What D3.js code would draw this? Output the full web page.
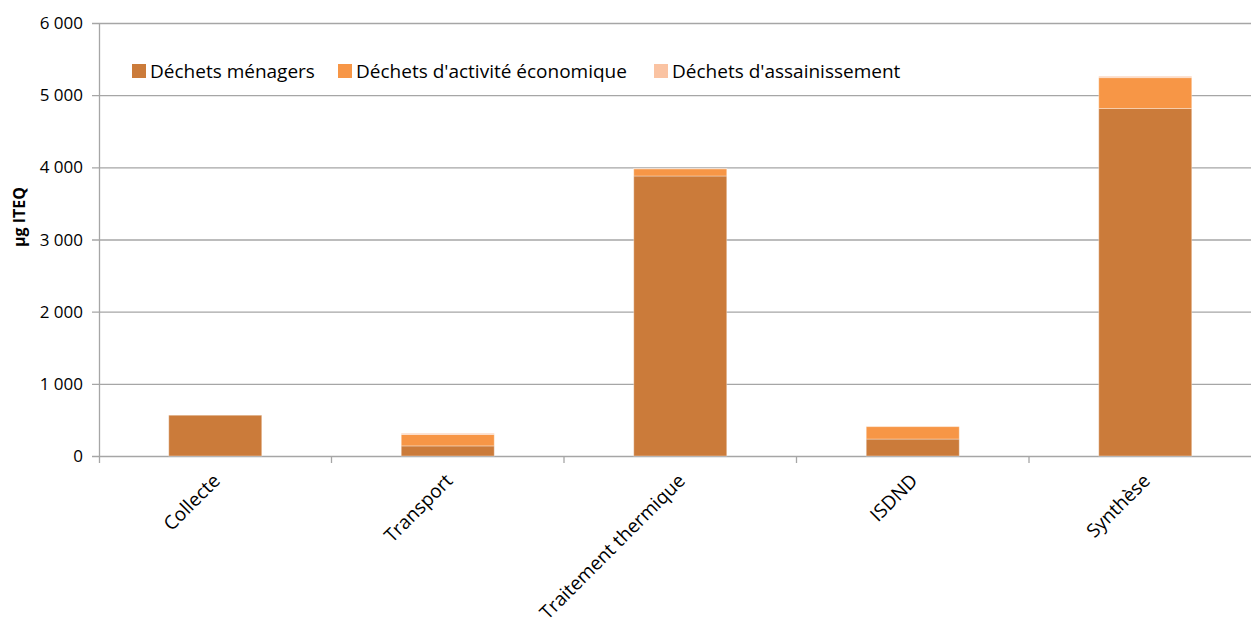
<!DOCTYPE html>
<html>
<head>
<meta charset="utf-8">
<script src="https://cdn.jsdelivr.net/npm/d3@7"></script>
<style>
  html, body { margin: 0; padding: 0; background: #fff; }
  svg { display: block; font-family: "Open Sans", Lato, sans-serif; }
</style>
</head>
<body>
<svg id="chart" width="1251" height="619"></svg>
<script>
// Emissions par étape de gestion des déchets (µg ITEQ)
const categories = ["Collecte", "Transport", "Traitement thermique", "ISDND", "Synthèse"];
const seriesNames = ["Déchets ménagers", "Déchets d'activité économique", "Déchets d'assainissement"];
const menagers = [565, 140, 3880, 235, 4815];
const activiteEco = [0, 158, 100, 172, 428];
const assainissement = [0, 16, 4, 0, 18];
const yTicks = [0, 1000, 2000, 3000, 4000, 5000, 6000];
const colors = ["#CB7B3A", "#F79646", "#FAC3A2"];

const svg = d3.select("#chart");
const margin = { left: 99, top: 23, bottom: 456 };
const bandWidth = 232.5;

const x = d3.scaleBand()
  .domain(categories)
  .range([margin.left, margin.left + bandWidth * categories.length])
  .paddingInner(0.6)
  .paddingOuter(0.3);

const y = d3.scaleLinear().domain([0, 6000]).range([margin.bottom, margin.top]);

const fmt = v => d3.format(",")(v).replace(/,/g, " ");

// Horizontal grid lines
svg.append("g")
  .selectAll("line")
  .data(yTicks)
  .join("line")
  .attr("x1", margin.left - 7)
  .attr("x2", 1251)
  .attr("y1", d => y(d) + 0.5)
  .attr("y2", d => y(d) + 0.5)
  .attr("stroke", "#a6a6a6")
  .attr("stroke-width", 1.3);

// Y axis labels
svg.append("g")
  .selectAll("text")
  .data(yTicks)
  .join("text")
  .attr("x", 83)
  .attr("y", d => y(d) + 6)
  .attr("text-anchor", "end")
  .attr("font-size", 17)
  .attr("fill", "#000")
  .text(d => fmt(d));

// Vertical axis line
svg.append("line")
  .attr("x1", margin.left + 0.5).attr("x2", margin.left + 0.5)
  .attr("y1", y(6000)).attr("y2", margin.bottom + 7)
  .attr("stroke", "#a6a6a6").attr("stroke-width", 1.3);

// Category separator ticks
const sepTicks = d3.range(1, categories.length).map(i => margin.left + i * bandWidth);
svg.append("g")
  .selectAll("line")
  .data(sepTicks)
  .join("line")
  .attr("x1", d => d).attr("x2", d => d)
  .attr("y1", margin.bottom).attr("y2", margin.bottom + 7)
  .attr("stroke", "#a6a6a6").attr("stroke-width", 1.3);

// Stacked bars
const rows = categories.map((c, i) => ({
  cat: c,
  [seriesNames[0]]: menagers[i],
  [seriesNames[1]]: activiteEco[i],
  [seriesNames[2]]: assainissement[i]
}));
const stacked = d3.stack().keys(seriesNames)(rows);

svg.append("g")
  .selectAll("g")
  .data(stacked)
  .join("g")
  .attr("fill", (d, i) => colors[i])
  .selectAll("rect")
  .data(d => d)
  .join("rect")
  .attr("x", d => x(d.data.cat))
  .attr("width", x.bandwidth())
  .attr("y", d => y(d[1]))
  .attr("height", d => Math.max(0, y(d[0]) - y(d[1])))
  .attr("stroke", "#fff")
  .attr("stroke-opacity", d => (d[1] - d[0]) > 0 ? 0.35 : 0)
  .attr("stroke-width", 1);

// Category labels, rotated
svg.append("g")
  .selectAll("text")
  .data(categories)
  .join("text")
  .attr("transform", d => `translate(${x(d) + x.bandwidth() / 2 + 6},${margin.bottom + 26}) rotate(-45)`)
  .attr("text-anchor", "end")
  .attr("font-size", 19)
  .attr("fill", "#000")
  .text(d => d);

// Y axis title
svg.append("text")
  .attr("transform", "translate(25,217) rotate(-90)")
  .attr("text-anchor", "middle")
  .attr("font-size", 16)
  .attr("font-weight", "bold")
  .attr("fill", "#000")
  .text("µg ITEQ");

// Legend
const legendX = [132, 338, 654];
const legend = svg.append("g")
  .selectAll("g")
  .data(seriesNames)
  .join("g")
  .attr("transform", (d, i) => `translate(${legendX[i]},64)`);
legend.append("rect")
  .attr("width", 14).attr("height", 14)
  .attr("fill", (d, i) => colors[i]);
legend.append("text")
  .attr("x", 18).attr("y", 13.5)
  .attr("font-size", 19)
  .attr("fill", "#000")
  .text(d => d);
</script>
</body>
</html>
